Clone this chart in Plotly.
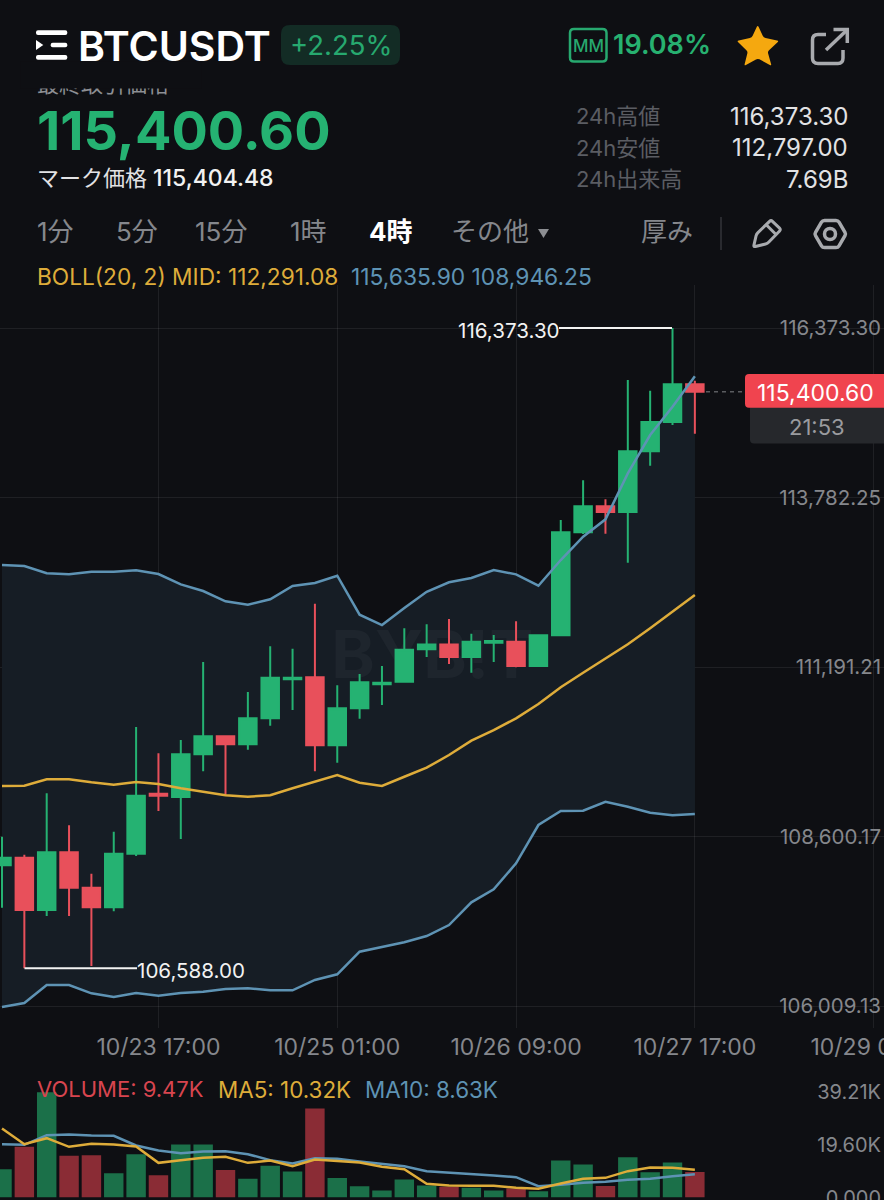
"""BTCUSDT 4h candles with Bollinger bands, volume pane and the app header around them."""

import pandas as pd
import plotly.graph_objects as go

WIDTH = 884
HEIGHT = 1200

BG = "#0e0f13"
BAND = "#161d25"
GRID = "rgba(255,255,255,0.075)"
GREEN = "#25b272"
RED = "#e8505b"
VOL_GREEN = "#1b7049"
VOL_RED = "#8a2c35"
YELLOW = "#deac3a"
BLUE = "#5e93b4"
GRAY = "#85878c"
DIM = "#5b5d63"
ICON = "#a8aaae"
FONT = "Inter, Noto Sans CJK JP"

times = pd.date_range("2025-10-22 13:00", periods=32, freq="4h")

opens = [
    108160, 108276, 107477, 108359, 107817, 107518, 108337, 109254,
    109204, 109857, 110132, 110010, 110407, 111003, 111034, 109994,
    110560, 110927, 110966, 111462, 111535, 111344, 111562, 111578,
    111206, 111676, 113250, 113648, 113560, 114488, 114936, 115512,
]
highs = [
    108597, 108322, 109260, 108771, 108031, 108673, 110274, 109872,
    110075, 111267, 110147, 110809, 111507, 111471, 112159, 110911,
    111084, 111206, 111783, 111844, 111925, 111700, 111680, 111890,
    111680, 113438, 114045, 113755, 115578, 115415, 116373.3, 115567,
]
lows = [
    107512, 106588, 107385, 107385, 106621, 107457, 108302, 108990,
    108562, 109597, 109230, 109927, 110294, 110534, 109597, 109728,
    110401, 110610, 110966, 111344, 111237, 111104, 111267, 111186,
    111196, 111665, 113224, 113229, 112785, 114268, 114890, 114757,
]
closes = [
    108276, 107477, 108359, 107817, 107518, 108337, 109224, 109224,
    109857, 110132, 110010, 110407, 111028, 111028, 109994, 110560,
    110957, 110951, 111456, 111535, 111344, 111578, 111588, 111206,
    111676, 113250, 113648, 113560, 114488, 114936, 115512, 115400.6,
]

boll_upper = [
    112750, 112735, 112624, 112608, 112648, 112648, 112670, 112613,
    112455, 112353, 112196, 112144, 112226, 112430, 112475, 112587,
    111991, 111833, 112093, 112342, 112486, 112552, 112674, 112608,
    112434, 112827, 113183, 113449, 114152, 114738, 115170, 115635.9,
]
boll_mid = [
    109372, 109377, 109475, 109475, 109429, 109392, 109433, 109403,
    109337, 109285, 109230, 109208, 109230, 109337, 109438, 109540,
    109423, 109372, 109514, 109652, 109846, 110065, 110228, 110407,
    110625, 110881, 111104, 111324, 111538, 111783, 112036, 112291.08,
]
boll_lower = [
    105995, 106055, 106330, 106330, 106203, 106147, 106208, 106167,
    106208, 106228, 106269, 106280, 106249, 106249, 106407, 106494,
    106839, 106916, 106983, 107079, 107247, 107594, 107793, 108190,
    108776, 108990, 108994, 109132, 109056, 108964, 108924, 108946.25,
]

# volume pane, in thousands
volume = [
    10.5, 18.9, 39.21, 15.5, 15.75, 9.06, 16.1, 8.3,
    19.7, 19.7, 10.2, 6.95, 11.8, 9.7, 33.1, 7.3,
    4.2, 2.6, 6.7, 4.5, 4.0, 3.6, 2.6, 3.35,
    2.35, 13.8, 12.3, 4.3, 15.0, 9.4, 13.0, 9.47,
]
vol_ma5 = [
    25.7, 19.85, 22.08, 18.86, 19.98, 19.73, 18.98, 12.9,
    13.9, 14.76, 15.14, 12.9, 13.77, 11.66, 14.14, 13.65,
    13.03, 11.41, 10.55, 5.09, 4.47, 4.34, 4.34, 3.6,
    3.23, 5.21, 6.95, 7.32, 9.8, 11.17, 11.04, 10.32,
]
vol_ma10 = [
    19.85, 19.6, 23.2, 23.45, 23.08, 22.95, 19.35, 17.49,
    16.5, 17.12, 17.25, 16.13, 13.9, 12.66, 14.64, 14.39,
    13.4, 12.53, 11.66, 9.8, 9.31, 8.93, 8.19, 7.57,
    4.22, 4.71, 5.46, 5.83, 6.58, 6.95, 7.94, 8.63,
]

price_ticks = [116373.30, 113782.25, 111191.21, 108600.17, 106009.13]
price_labels = ["116,373.30", "113,782.25", "111,191.21", "108,600.17", "106,009.13"]
time_ticks = ["2025-10-23 17:00", "2025-10-25 01:00", "2025-10-26 09:00", "2025-10-27 17:00", "2025-10-29 01:00"]
time_labels = ["10/23 17:00", "10/25 01:00", "10/26 09:00", "10/27 17:00", "10/29 01:00"]
vol_ticks = [39.21, 19.60, 0]
vol_labels = ["39.21K", "19.60K", "0.000"]

tabs = [("1分", 37), ("5分", 116), ("15分", 195), ("1時", 290), ("その他", 452)]
stats = [("24h高値", "116,373.30", 116), ("24h安値", "112,797.00", 148), ("24h出来高", "7.69B", 179)]


def fx(x):
    return x / WIDTH


def fy(y):
    return 1 - y / HEIGHT


def poly(points, close=True):
    """SVG path in paper coordinates from page pixel points."""
    body = " L".join(f"{fx(x):.5f},{fy(y):.5f}" for x, y in points)
    return f"M{body}" + (" Z" if close else "")


def rounded(points, r):
    """Closed polygon whose corners are cut with quadratic curves of radius r."""
    parts = []
    n = len(points)
    for i, (x, y) in enumerate(points):
        px, py = points[i - 1]
        nx, ny = points[(i + 1) % n]
        d0 = ((px - x) ** 2 + (py - y) ** 2) ** 0.5
        d1 = ((nx - x) ** 2 + (ny - y) ** 2) ** 0.5
        a = (x + (px - x) * r / d0, y + (py - y) * r / d0)
        b = (x + (nx - x) * r / d1, y + (ny - y) * r / d1)
        parts.append(
            f"{'M' if i == 0 else 'L'}{fx(a[0]):.5f},{fy(a[1]):.5f} "
            f"Q{fx(x):.5f},{fy(y):.5f} {fx(b[0]):.5f},{fy(b[1]):.5f}"
        )
    return " ".join(parts) + " Z"


def box(x0, y0, x1, y1):
    return [(x0, y0), (x1, y0), (x1, y1), (x0, y1)]


def filled(path, color):
    return dict(type="path", path=path, xref="paper", yref="paper", fillcolor=color, line_width=0)


def stroked(path, color, width):
    return dict(type="path", path=path, xref="paper", yref="paper", line=dict(color=color, width=width))


def label(text, x, y, size, color, anchor="left", weight=None):
    # annotations carry a little side padding, take it back so x is the ink edge
    nudge = {"left": -1.5, "right": 1.5, "center": 0}[anchor]
    return dict(
        text=text,
        x=fx(x + nudge),
        y=fy(y),
        xref="paper",
        yref="paper",
        xanchor=anchor,
        yanchor="middle",
        showarrow=False,
        borderpad=0,
        font=dict(family=FONT, size=size, color=color, weight=weight),
    )


fig = go.Figure()

# band and watermark sit under the candles, the band lines on top of them
fig.add_trace(go.Scatter(x=times, y=boll_lower, mode="lines", line_width=0, zorder=0))
fig.add_trace(
    go.Scatter(x=times, y=boll_upper, mode="lines", line_width=0, fill="tonexty", fillcolor=BAND, zorder=0)
)
fig.add_trace(
    go.Scatter(
        x=["2025-10-25 18:00"],
        y=[111268],
        mode="text",
        text=["BYB!T"],
        textposition="middle center",
        textfont=dict(family=FONT, size=66, color="#1e252d", weight=700),
        zorder=0,
    )
)
fig.add_trace(
    go.Candlestick(
        x=times,
        open=opens,
        high=highs,
        low=lows,
        close=closes,
        whiskerwidth=0,
        increasing=dict(line=dict(color=GREEN, width=2), fillcolor=GREEN),
        decreasing=dict(line=dict(color=RED, width=2), fillcolor=RED),
        zorder=1,
    )
)
for series, color in [(boll_upper, BLUE), (boll_lower, BLUE), (boll_mid, YELLOW)]:
    fig.add_trace(go.Scatter(x=times, y=series, mode="lines", line=dict(color=color, width=2.5), zorder=2))

fig.add_trace(
    go.Bar(
        x=times,
        y=volume,
        marker_color=[VOL_GREEN if c >= o else VOL_RED for o, c in zip(opens, closes)],
        marker_line_width=0,
        xaxis="x2",
        yaxis="y2",
    )
)
for series, color in [(vol_ma10, BLUE), (vol_ma5, YELLOW)]:
    fig.add_trace(
        go.Scatter(x=times, y=series, mode="lines", line=dict(color=color, width=2.5), xaxis="x2", yaxis="y2")
    )

x_range = ["2025-10-22 12:38:30", "2025-10-29 02:51:00"]

shapes = [
    # logo
    filled(rounded(box(36, 30.3, 67.3, 35), 2), "#ffffff"),
    filled(poly([(36, 40), (43.3, 45), (36, 50)]), "#ffffff"),
    filled(rounded(box(50.7, 42.7, 67.3, 47.3), 2), "#ffffff"),
    filled(rounded(box(36, 55, 67.3, 59.7), 2), "#ffffff"),
    # change pill, MM box
    filled(rounded(box(281, 25, 400, 65), 9), "#132c25"),
    stroked(rounded(box(570, 29, 606.5, 61.5), 4), "#27a96f", 2.5),
    # star
    filled(
        rounded(
            [
                (757.7, 25),
                (763.6, 37.6),
                (779, 40.8),
                (767.6, 51.6),
                (771.6, 66),
                (757.7, 58.4),
                (744.2, 66),
                (747.8, 51.6),
                (736.8, 40.8),
                (751.8, 37.6),
            ],
            2,
        ),
        "#f5a80f",
    ),
    # share icon
    stroked(
        "M{} {} L{}".format(
            f"{fx(826):.5f},{fy(34.5):.5f} L{fx(818):.5f},{fy(34.5):.5f}",
            f"Q{fx(812.5):.5f},{fy(34.5):.5f} {fx(812.5):.5f},{fy(40):.5f} L{fx(812.5):.5f},{fy(58):.5f}",
            f"{fx(812.5):.5f},{fy(58):.5f} Q{fx(812.5):.5f},{fy(63.5):.5f} {fx(818):.5f},{fy(63.5):.5f} "
            f"L{fx(838):.5f},{fy(63.5):.5f} Q{fx(843):.5f},{fy(63.5):.5f} {fx(843):.5f},{fy(58):.5f} "
            f"L{fx(843):.5f},{fy(50):.5f}",
        ),
        ICON,
        3.5,
    ),
    stroked(poly([(826, 50), (847, 30)], close=False), ICON, 3.5),
    stroked(poly([(833.5, 29.5), (847.3, 29.5), (847.3, 43)], close=False), ICON, 3.5),
    # tab bar bits
    filled(poly([(538, 229), (549, 229), (543.5, 238)]), "#8c8e92"),
    dict(type="line", xref="paper", yref="paper", x0=fx(721), x1=fx(721), y0=fy(217), y1=fy(250), line=dict(color="#33353a", width=1.5)),
    # pencil
    stroked(
        rounded([(753.5, 247), (756.5, 234), (771, 220), (781, 229.5), (767.5, 243.5)], 2),
        ICON,
        3,
    ),
    stroked(poly([(766.5, 225), (776.5, 235)], close=False), ICON, 3),
    # settings hexagon
    stroked(rounded([(814.5, 234), (822.5, 220.5), (838, 220.5), (846, 234), (838, 247.5), (822.5, 247.5)], 2), ICON, 3.5),
    dict(type="circle", xref="paper", yref="paper", x0=fx(824.5), x1=fx(835.5), y0=fy(228.5), y1=fy(239.5), line=dict(color=ICON, width=3.5)),
    # high and low connectors
    dict(type="line", xref="paper", yref="y", x0=fx(559), x1=fx(672), y0=highs[30], y1=highs[30], line=dict(color="#f2f2f2", width=2)),
    dict(type="line", xref="paper", yref="y", x0=fx(24.5), x1=fx(137), y0=lows[1], y1=lows[1], line=dict(color="#f2f2f2", width=2)),
    # last price line and tags
    dict(type="line", xref="paper", yref="y", x0=fx(706), x1=fx(745), y0=closes[31], y1=closes[31], line=dict(color="#5a5c60", width=1.5, dash="4px,4px")),
    filled(rounded(box(750, 404, 900, 443.5), 4), "#26282c"),
    filled(rounded(box(745, 374, 900, 407.7), 4), "#f0444f"),
]

annotations = [
    label("BTCUSDT", 78, 46, 41, "#ffffff", weight=600),
    label("+2.25%", 340.5, 45, 27.5, "#27a96f", anchor="center"),
    label("MM", 588.5, 46, 17, "#27a96f", anchor="center", weight=500),
    label("19.08%", 613, 45, 27, "#27b170", weight=600),
    # the label scrolled half under the header: only its lower edge shows
    label("最終取引価格", 37, 84, 22, "#8d8f94"),
    dict(
        text=" ", x=fx(20), y=fy(89), xref="paper", yref="paper", xanchor="left", yanchor="bottom",
        showarrow=False, width=180, height=26, bgcolor=BG, borderpad=0,
    ),
    label("115,400.60", 37, 130, 54, GREEN, weight=700),
    label("マーク価格", 37, 178, 22, "#e2e2e4"),
    label("115,404.48", 153, 178, 23, "#f2f2f2", weight=500),
    label("4時", 369, 231, 26, "#ffffff", weight=700),
    label("厚み", 641, 231, 26, GRAY),
    label("BOLL(20, 2) MID: 112,291.08", 37, 276, 22.7, YELLOW),
    label("115,635.90 108,946.25", 351, 276, 22.8, BLUE),
    label("116,373.30", 559, 330, 20.6, "#f2f2f2", anchor="right"),
    label("106,588.00", 137, 970, 20.6, "#f2f2f2"),
    label("115,400.60", 815, 393, 23, "#ffffff", anchor="center"),
    label("21:53", 817, 427, 22, "#9a9b9f", anchor="center"),
    label("VOLUME: 9.47K", 37, 1089, 22, "#d8454f"),
    label("MA5: 10.32K", 218, 1089, 22.4, YELLOW),
    label("MA10: 8.63K", 365, 1089, 22.4, BLUE),
]
for text, x in tabs:
    annotations.append(label(text, x, 231, 26, GRAY))
for name, value, y in stats:
    annotations.append(label(name, 576, y, 22, DIM))
    annotations.append(label(value, 847, y, 24, "#e2e2e4", anchor="right"))

fig.update_layout(
    width=WIDTH,
    height=HEIGHT,
    margin=dict(l=0, r=0, t=0, b=0),
    paper_bgcolor=BG,
    plot_bgcolor=BG,
    showlegend=False,
    hovermode=False,
    boxgap=0.217,
    boxgroupgap=0,
    bargap=0.13,
    font=dict(family=FONT, color=GRAY),
    shapes=shapes,
    annotations=annotations,
    xaxis=dict(
        domain=[0, 1],
        range=x_range,
        type="date",
        anchor="y",
        automargin=False,
        rangeslider=dict(visible=False),
        tickmode="array",
        tickvals=time_ticks,
        ticktext=time_labels,
        tickfont=dict(size=23, color=GRAY),
        ticks="",
        ticklabelstandoff=3,
        ticklabeloverflow="allow",
        showgrid=True,
        gridcolor=GRID,
        gridwidth=1,
        zeroline=False,
        showline=False,
    ),
    yaxis=dict(
        domain=[fy(1028), fy(285)],
        range=[105673, 117031],
        anchor="x",
        automargin=False,
        side="right",
        ticklabelposition="inside",
        ticklabeloverflow="allow",
        tickmode="array",
        tickvals=price_ticks,
        ticktext=price_labels,
        tickfont=dict(size=20.5, color=GRAY),
        ticks="",
        showgrid=True,
        gridcolor=GRID,
        gridwidth=1,
        zeroline=False,
        showline=False,
    ),
    xaxis2=dict(
        domain=[0, 1],
        range=x_range,
        type="date",
        anchor="y2",
        automargin=False,
        showticklabels=False,
        ticks="",
        showgrid=False,
        zeroline=False,
        showline=False,
    ),
    yaxis2=dict(
        domain=[fy(1197.5), fy(1075)],
        range=[0, 45.6],
        anchor="x2",
        automargin=False,
        side="right",
        ticklabelposition="inside",
        ticklabeloverflow="allow",
        tickmode="array",
        tickvals=vol_ticks,
        ticktext=vol_labels,
        tickfont=dict(size=20, color=GRAY),
        ticks="",
        showgrid=False,
        zeroline=False,
        showline=False,
    ),
)

fig.write_html(
    "out.html",
    config=dict(displayModeBar=False),
    post_script="document.body.style.margin='0';document.body.style.overflow='hidden';",
)
